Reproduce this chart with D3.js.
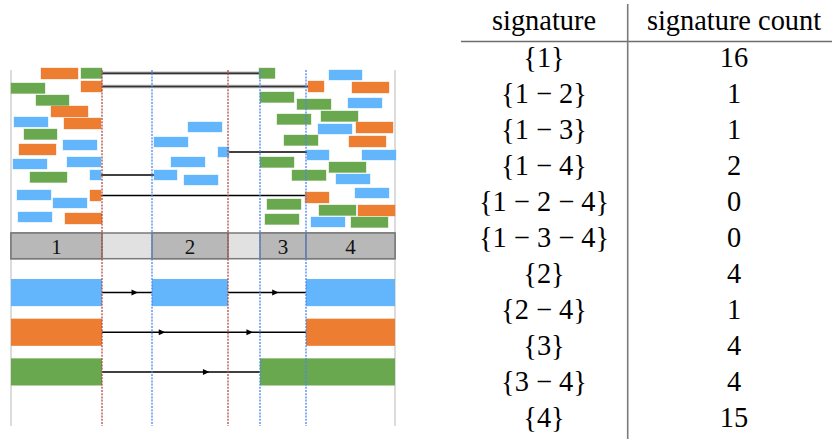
<!DOCTYPE html>
<html>
<head>
<meta charset="utf-8">
<script src="https://cdn.jsdelivr.net/npm/d3@7"></script>
<style>
  body { margin: 0; background: #fff; }
  svg { display: block; }
</style>
</head>
<body>
<svg id="chart" width="832" height="439"></svg>
<script>
// Timeline units run along the track; lane values are vertical offsets inside the event area.
const regionLabels = ["1", "2", "3", "4"];
const regionStart = [0, 141, 249, 295];
const regionEnd = [91, 217, 295, 384];

// Events per class: [start, end, lane]
const blueEvents = [
  [3, 37, 49], [52, 86, 72], [2, 36, 91], [56, 90, 89], [79, 90, 102],
  [6, 40, 122], [42, 76, 130], [7, 41, 144],
  [177, 211, 54], [143, 177, 69], [160, 194, 89], [143, 166, 102], [173, 207, 107], [207, 218, 79],
  [318, 351, 2], [337, 371, 30], [307, 341, 56], [296, 318, 82], [351, 385, 82],
  [325, 359, 106], [344, 378, 120], [300, 334, 149]
];
const orangeEvents = [
  [30, 67, 0], [70, 91, 13], [40, 77, 38], [53, 90, 50], [8, 45, 76], [79, 90, 122], [54, 91, 145],
  [297, 313, 13], [341, 378, 14], [345, 382, 54], [338, 375, 68], [294, 318, 124], [347, 384, 137]
];
const greenEvents = [
  [70, 91, 0], [0, 34, 15], [25, 58, 27], [13, 46, 61], [19, 56, 104],
  [248, 264, 0], [249, 283, 24], [286, 320, 31], [266, 300, 46], [310, 347, 43],
  [273, 307, 67], [249, 283, 89], [318, 355, 94], [281, 315, 102], [256, 290, 131],
  [308, 345, 137], [254, 288, 146], [340, 377, 149]
];

// Same object seen in two regions: [class, event index in first region, event index in later region]
const eventLinks = [
  ["green", 0, 5], ["orange", 1, 7], ["blue", 4, 11], ["orange", 5, 11], ["blue", 13, 17]
];

// Regions (1-based) where each class is present, and the hops between them
const blueRegions = [1, 2, 4];
const orangeRegions = [1, 4];
const greenRegions = [1, 3, 4];
const blueHops = [[1, 2], [2, 4]];
const orangeHops = [[1, 4]];
const greenHops = [[1, 3]];

// Table of signatures
const signatures = ["{1}", "{1 \u2212 2}", "{1 \u2212 3}", "{1 \u2212 4}", "{1 \u2212 2 \u2212 4}",
  "{1 \u2212 3 \u2212 4}", "{2}", "{2 \u2212 4}", "{3}", "{3 \u2212 4}", "{4}"];
const signatureCounts = [16, 1, 1, 2, 0, 0, 4, 1, 4, 4, 15];
const tableHeaders = ["signature", "signature count"];

// ---------------------------------------------------------------
const svg = d3.select("#chart");
const kinds = ["blue", "orange", "green"];
const color = d3.scaleOrdinal().domain(kinds).range(["#63b6fc", "#ed7d31", "#6aa84f"]);
const eventHeight = { blue: 10, orange: 11, green: 10.5 };
const events = { blue: blueEvents, orange: orangeEvents, green: greenEvents };
const presence = { blue: blueRegions, orange: orangeRegions, green: greenRegions };
const hops = { blue: blueHops, orange: orangeHops, green: greenHops };
// where arrowheads sit along each hop (fraction of its length)
const arrowAt = { "blue1-2": [0.72], "blue2-4": [0.65], "orange1-4": [0.31, 0.74], "green1-3": [0.68] };

const x = d3.scaleLinear().domain([0, 384]).range([11, 395]);
const lane = d3.scaleLinear().domain([0, 160]).range([68, 228]);
const band = d3.scaleBand().domain(kinds).range([279, 385.5]).paddingInner(0.316);

const trackTop = 70, trackBottom = 426;

// side edges of the track
svg.append("g").selectAll("line")
  .data([0, 384]).join("line")
  .attr("x1", d => x(d)).attr("x2", d => x(d))
  .attr("y1", trackTop).attr("y2", trackBottom)
  .attr("stroke", "#dcdcdc").attr("stroke-width", 2);

// connectors between linked events
const linkG = svg.append("g");
eventLinks.forEach(([k, a, b], i) => {
  const ea = events[k][a], eb = events[k][b];
  const y = lane(ea[2]) + eventHeight[k] / 2;
  if (i < 2) {
    linkG.append("line")
      .attr("x1", x(ea[1])).attr("x2", x(eb[0])).attr("y1", y).attr("y2", y)
      .attr("stroke", "#b5b5b5").attr("stroke-width", 3.5);
  }
  linkG.append("line")
    .attr("x1", x(ea[1])).attr("x2", x(eb[0]) + (i === 1 ? 1.5 : 0)).attr("y1", y).attr("y2", y)
    .attr("stroke", i < 2 ? "#333" : "#000").attr("stroke-width", 1.6);
});

// event rectangles
const evG = svg.append("g");
kinds.forEach(k => {
  evG.append("g").selectAll("rect")
    .data(events[k]).join("rect")
    .attr("x", d => x(d[0]))
    .attr("y", d => lane(d[2]))
    .attr("width", d => x(d[1]) - x(d[0]))
    .attr("height", eventHeight[k])
    .attr("fill", color(k))
    .attr("stroke", color(k)).attr("stroke-opacity", 0.35).attr("stroke-width", 1);
});

// region strip
const stripTop = 233, stripH = 25.7;
svg.append("rect")
  .attr("x", x(0)).attr("y", stripTop)
  .attr("width", x(384) - x(0)).attr("height", stripH)
  .attr("fill", "#e1e1e1").attr("stroke", "#7a7a7a").attr("stroke-width", 1.5);
const cells = svg.append("g").selectAll("g")
  .data(regionLabels.map((l, i) => ({ label: l, s: regionStart[i], e: regionEnd[i] })))
  .join("g");
cells.append("rect")
  .attr("x", d => x(d.s)).attr("y", stripTop)
  .attr("width", d => x(d.e) - x(d.s)).attr("height", stripH)
  .attr("fill", "#b8b8b8").attr("stroke", "#7a7a7a").attr("stroke-width", 1.5);
cells.append("text")
  .attr("x", d => (x(d.s) + x(d.e)) / 2).attr("y", 254)
  .attr("text-anchor", "middle")
  .style("font-family", '"Liberation Serif", serif').style("font-size", "21px").attr("fill", "#111")
  .text(d => d.label);

// presence bars and hops
const barsG = svg.append("g");
kinds.forEach(k => {
  barsG.append("g").selectAll("rect")
    .data(presence[k]).join("rect")
    .attr("x", r => x(regionStart[r - 1]))
    .attr("y", band(k))
    .attr("width", r => x(regionEnd[r - 1]) - x(regionStart[r - 1]))
    .attr("height", band.bandwidth())
    .attr("fill", color(k));
  const cy = band(k) + band.bandwidth() / 2;
  hops[k].forEach(([a, b]) => {
    const x1 = x(regionEnd[a - 1]), x2 = x(regionStart[b - 1]);
    barsG.append("line")
      .attr("x1", x1).attr("x2", x2).attr("y1", cy).attr("y2", cy)
      .attr("stroke", "#000").attr("stroke-width", 1.6);
    (arrowAt[k + a + "-" + b] || []).forEach(f => {
      const tip = x1 + (x2 - x1) * f;
      barsG.append("path")
        .attr("d", `M${tip - 6.5},${cy - 3} L${tip},${cy} L${tip - 6.5},${cy + 3} Z`)
        .attr("fill", "#000");
    });
  });
});

// region boundaries: red where a region ends before a gap, blue where a region begins
const ends = regionEnd.filter((e, i) => i < regionEnd.length - 1 && regionStart[i + 1] > e);
const starts = regionStart.filter(s => s > 0);
const bound = svg.append("g");
bound.append("g").selectAll("line").data(ends).join("line")
  .attr("x1", d => x(d)).attr("x2", d => x(d))
  .attr("y1", trackTop).attr("y2", trackBottom)
  .attr("stroke", "#b04a48").attr("stroke-width", 1.3).attr("stroke-dasharray", "2,1.2");
bound.append("g").selectAll("line").data(starts).join("line")
  .attr("x1", d => x(d)).attr("x2", d => x(d))
  .attr("y1", trackTop).attr("y2", trackBottom)
  .attr("stroke", "#4a86f0").attr("stroke-width", 1.3).attr("stroke-dasharray", "2,1.2");

// signature table (glyphs set at 20px and scaled up to the table size)
const col = d3.scaleBand().domain(tableHeaders).range([449, 829]);
const row = d3.scaleLinear().domain([0, signatures.length - 1]).range([66.5, 426.5]);
const colCenter = h => col(h) + col.bandwidth() / 2;
const textScale = 1.42;
function tableText(sel, px, py) {
  sel.attr("text-anchor", "middle")
    .attr("transform", (d, i) => `translate(${px(d, i)},${py(d, i)}) scale(${textScale})`)
    .style("font-family", '"Liberation Serif", serif')
    .style("font-size", "20px")
    .attr("fill", "#000");
}
svg.append("g").selectAll("text").data(tableHeaders).join("text")
  .call(tableText, d => colCenter(d), () => 30)
  .text(d => d);
svg.append("g").selectAll("text").data(signatures).join("text")
  .call(tableText, () => colCenter(tableHeaders[0]), (d, i) => row(i))
  .text(d => d);
svg.append("g").selectAll("text").data(signatureCounts).join("text")
  .call(tableText, () => colCenter(tableHeaders[1]), (d, i) => row(i))
  .text(d => d);
svg.append("line")
  .attr("x1", 461).attr("x2", 832).attr("y1", 41.5).attr("y2", 41.5)
  .attr("stroke", "#6e6e6e").attr("stroke-width", 1.3);
svg.append("line")
  .attr("x1", 627.7).attr("x2", 627.7).attr("y1", 4).attr("y2", 439)
  .attr("stroke", "#7a7a7a").attr("stroke-width", 1.6);
</script>
</body>
</html>
